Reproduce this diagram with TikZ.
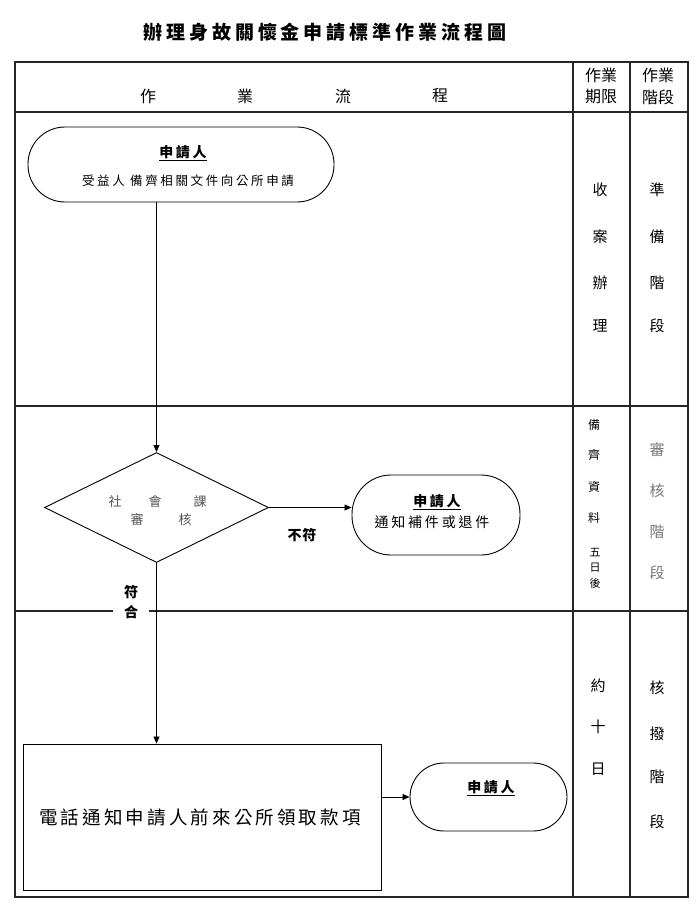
\documentclass[tikz,border=0pt]{standalone}
\usepackage{fontspec}
\usetikzlibrary{shapes.geometric,arrows.meta}
\setmainfont{Noto Sans CJK TC}
\newfontfamily\cjk{Noto Sans CJK TC}
\newcommand\fsz[2]{\fontsize{#1}{#1}\selectfont\addfontfeature{LetterSpace=#2}}
\definecolor{softgray}{HTML}{555555}
\definecolor{lightgray2}{HTML}{777777}
\begin{document}
\begin{tikzpicture}[x=1pt,y=-1pt,font=\cjk,
  frame/.style={line width=1.3pt,draw=black!85},
  outl/.style={draw=black,line width=0.9pt},
  txt/.style={inner sep=0pt,outer sep=0pt},
  arr/.style={-{Triangle[length=7pt,width=6pt]},line width=0.8pt},
  colchar/.style={txt,font=\cjk\fsz{15}{0}},
]
\useasboundingbox (0,0) rectangle (700,912);
\fill[white] (0,0) rectangle (700,912);
% title
\node[txt,font=\cjk\bfseries\fsz{19}{21}] (title) at (325,32) {辦理身故關懷金申請標準作業流程圖};
% table frame
\draw[frame] (15,62) rectangle (688,897);
\draw[frame] (15,112) -- (688,112);
\draw[frame] (573,62) -- (573,897);
\draw[frame] (630,62) -- (630,897);
\draw[frame] (15,406) -- (688,406);
\draw[frame] (15,611) -- (688,611);
% header
\node[txt,font=\cjk\fsz{16}{0}] (h1) at (148,96) {作};
\node[txt,font=\cjk\fsz{16}{0}] (h2) at (245,96) {業};
\node[txt,font=\cjk\fsz{16}{0}] (h3) at (343,96) {流};
\node[txt,font=\cjk\fsz{16}{0}] (h4) at (440,96) {程};
\node[txt,font=\cjk\fsz{16}{0}] (h5a) at (601,75) {作業};
\node[txt,font=\cjk\fsz{16}{0}] (h5b) at (601,97) {期限};
\node[txt,font=\cjk\fsz{16}{0}] (h6a) at (658,75) {作業};
\node[txt,font=\cjk\fsz{16}{0}] (h6b) at (658,97) {階段};
% row 1 side texts
\node[colchar] (a1) at (600,190) {收};
\node[colchar] (a2) at (600,237) {案};
\node[colchar] (a3) at (600,283) {辦};
\node[colchar] (a4) at (600,326) {理};
\node[colchar] (b1) at (657,190) {準};
\node[colchar] (b2) at (657,237) {備};
\node[colchar] (b3) at (657,283) {階};
\node[colchar] (b4) at (657,326) {段};
% row 2 side texts
\node[txt,font=\cjk\fsz{12}{0}] (c1) at (594,425) {備};
\node[txt,font=\cjk\fsz{12}{0}] (c2) at (594,455) {齊};
\node[txt,font=\cjk\fsz{12}{0}] (c3) at (594,487) {資};
\node[txt,font=\cjk\fsz{12}{0}] (c4) at (594,518) {料};
\node[txt,font=\cjk\fsz{11}{0}] (c5) at (595,553) {五};
\node[txt,font=\cjk\fsz{11}{0}] (c6) at (595,568) {日};
\node[txt,font=\cjk\fsz{11}{0}] (c7) at (595,583) {後};
\node[colchar,text=lightgray2] (d1) at (657,450) {審};
\node[colchar,text=lightgray2] (d2) at (657,491) {核};
\node[colchar,text=lightgray2] (d3) at (657,532) {階};
\node[colchar,text=lightgray2] (d4) at (657,573) {段};
% row 3 side texts
\node[colchar] (e1) at (598,686) {約};
\node[colchar] (e2) at (598,727) {十};
\node[colchar] (e3) at (598,769) {日};
\node[colchar] (f1) at (657,688) {核};
\node[colchar] (f2) at (657,734) {撥};
\node[colchar] (f3) at (657,777) {階};
\node[colchar] (f4) at (657,822) {段};
% flow nodes
\node[outl,rectangle,rounded corners=37pt,minimum width=306pt,minimum height=75pt,inner sep=0pt] (n1) at (181,164.5) {};
\node[txt,font=\cjk\bfseries\fsz{14}{18}] (n1a) at (183,153) {\underline{申請人}};
\node[txt,font=\cjk\fsz{12.5}{21}] (n1b) at (188,181) {受益人 備齊相關文件向公所申請};
\node[outl,diamond,minimum width=224pt,minimum height=110pt,inner sep=0pt] (dm) at (156.5,507.5) {};
\node[txt,font=\cjk\fsz{13}{0},text=softgray] (dm1) at (115,502) {社};
\node[txt,font=\cjk\fsz{13}{0},text=softgray] (dm2) at (155,502) {會};
\node[txt,font=\cjk\fsz{13}{0},text=softgray] (dm3) at (200,502) {課};
\node[txt,font=\cjk\fsz{13}{0},text=softgray] (dm4) at (137,520) {審};
\node[txt,font=\cjk\fsz{13}{0},text=softgray] (dm5) at (185,520) {核};
\node[outl,rectangle,rounded corners=39pt,minimum width=168pt,minimum height=80pt,inner sep=0pt] (n2) at (436,515) {};
\node[txt,font=\cjk\bfseries\fsz{14}{18}] (n2a) at (437,502) {\underline{申請人}};
\node[txt,font=\cjk\fsz{14}{20}] (n2b) at (432,522) {通知補件或退件};
\node[txt,font=\cjk\bfseries\fsz{14}{5}] (nf) at (302,535) {不符};
\node[txt,fill=white,inner xsep=11pt,inner ysep=1pt,font=\cjk\bfseries\fsz{14}{0},align=center] (ok) at (131,602) {符\\[6pt]合};
\node[outl,rectangle,minimum width=358pt,minimum height=146pt,inner sep=0pt] (bx) at (202,817) {};
\node[txt,font=\cjk\fsz{18.5}{17}] (bxt) at (200,817) {電話通知申請人前來公所領取款項};
\node[outl,rectangle,rounded corners=34pt,minimum width=157pt,minimum height=68pt,inner sep=0pt] (n3) at (488.5,797) {};
\node[txt,font=\cjk\bfseries\fsz{14}{18}] (n3a) at (491,788) {\underline{申請人}};
% connectors
\draw[arr] (dm.north |- n1.south) -- (dm.north);
\draw[arr] (dm.east) -- (dm.east -| n2.west);
\draw[line width=0.8pt] (dm.south) -- (dm.south |- ok.north);
\draw[arr] (dm.south |- ok.north) -- (dm.south |- bx.north);
\draw[arr] (bx.east |- n3.west) -- (n3.west);
\end{tikzpicture}
\end{document}
